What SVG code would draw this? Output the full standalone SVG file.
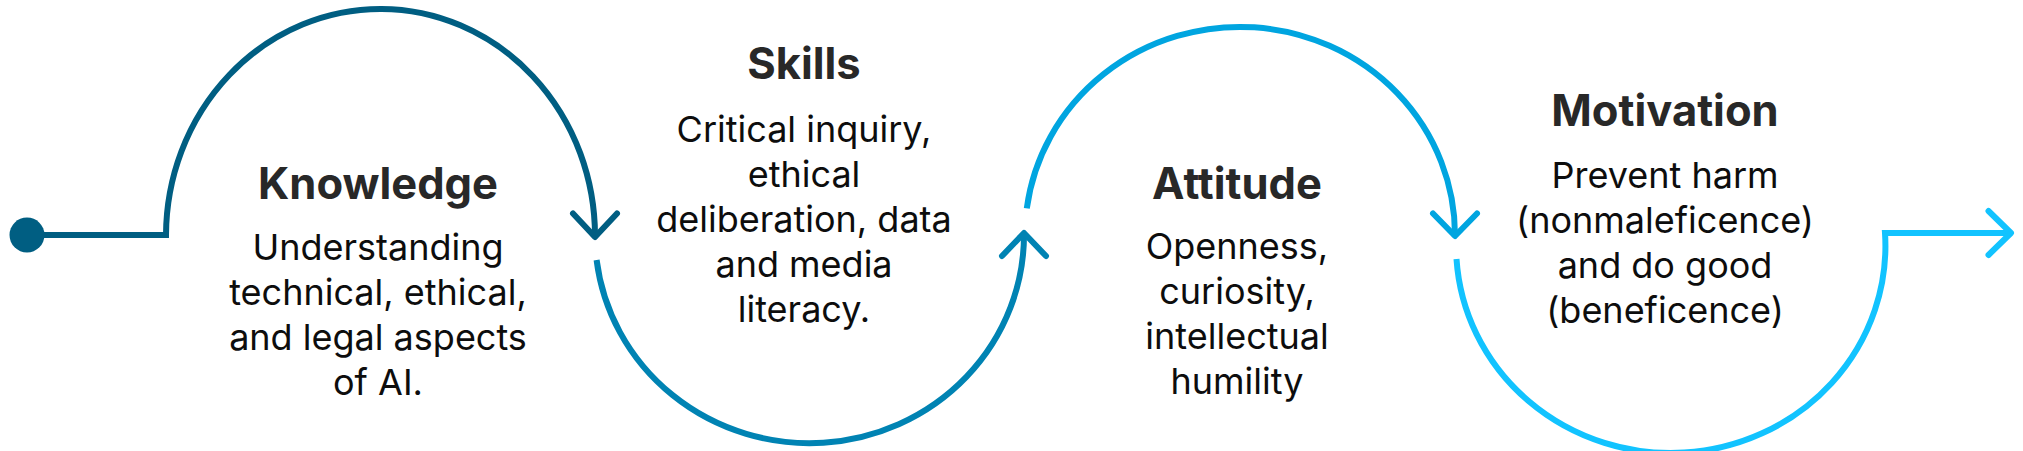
<svg xmlns="http://www.w3.org/2000/svg" width="2023" height="451" viewBox="0 0 2023 451">
  <style>
    .line { fill: none; stroke-width: 6; stroke-linejoin: miter; stroke-linecap: butt; }
    .head { fill: none; stroke-width: 6; stroke-linejoin: round; stroke-linecap: round; }
    .title { font-family: Inter, "Liberation Sans", sans-serif; font-weight: 700; font-size: 43.5px; fill: #282828; text-anchor: middle; }
    .body { font-family: Inter, "Liberation Sans", sans-serif; font-weight: 400; font-size: 36px; fill: #0d0d0d; text-anchor: middle; }
    .c1 { stroke: #005E82; }
    .c2 { stroke: #0083B3; }
    .c3 { stroke: #00A5E0; }
    .c4 { stroke: #12C3FF; }
  </style>
  <rect width="2023" height="451" fill="#ffffff"/>
  <g id="connectors">
    <circle cx="27" cy="235" r="17.5" fill="#005E82"/>
    <path class="line c1" d="M27,235 H166 A214.5,227 0 0 1 595,237"/>
    <path class="head c1" d="M573,213.5 L595,237 L617,213.5"/>
    <path class="line c2" d="M596.6,260 A214.5,208.5 0 0 0 1024,233"/>
    <path class="head c2" d="M1002,256 L1024,233 L1046,256"/>
    <path class="line c3" d="M1026.8,208.3 A215,208.3 0 0 1 1455,236"/>
    <path class="head c3" d="M1433,213.5 L1455,236 L1477,213.5"/>
    <path class="line c4" d="M1456.5,259 A214.5,207 0 0 0 1885,233 H2011"/>
    <path class="head c4" d="M1988.5,211 L2011,233 L1988.5,255"/>
  </g>
  <g id="knowledge">
    <text class="title" x="378" y="199">Knowledge</text>
    <text class="body" x="378" y="260">Understanding</text>
    <text class="body" x="378" y="305">technical, ethical,</text>
    <text class="body" x="378" y="350">and legal aspects</text>
    <text class="body" x="378" y="395">of AI.</text>
  </g>
  <g id="skills">
    <text class="title" x="804" y="79">Skills</text>
    <text class="body" x="804" y="142">Critical inquiry,</text>
    <text class="body" x="804" y="187">ethical</text>
    <text class="body" x="804" y="232">deliberation, data</text>
    <text class="body" x="804" y="277">and media</text>
    <text class="body" x="804" y="322">literacy.</text>
  </g>
  <g id="attitude">
    <text class="title" x="1237" y="199">Attitude</text>
    <text class="body" x="1237" y="259">Openness,</text>
    <text class="body" x="1237" y="304">curiosity,</text>
    <text class="body" x="1237" y="349">intellectual</text>
    <text class="body" x="1237" y="394">humility</text>
  </g>
  <g id="motivation">
    <text class="title" x="1665" y="126">Motivation</text>
    <text class="body" x="1665" y="188">Prevent harm</text>
    <text class="body" x="1665" y="233">(nonmaleficence)</text>
    <text class="body" x="1665" y="278">and do good</text>
    <text class="body" x="1665" y="323">(beneficence)</text>
  </g>
</svg>
